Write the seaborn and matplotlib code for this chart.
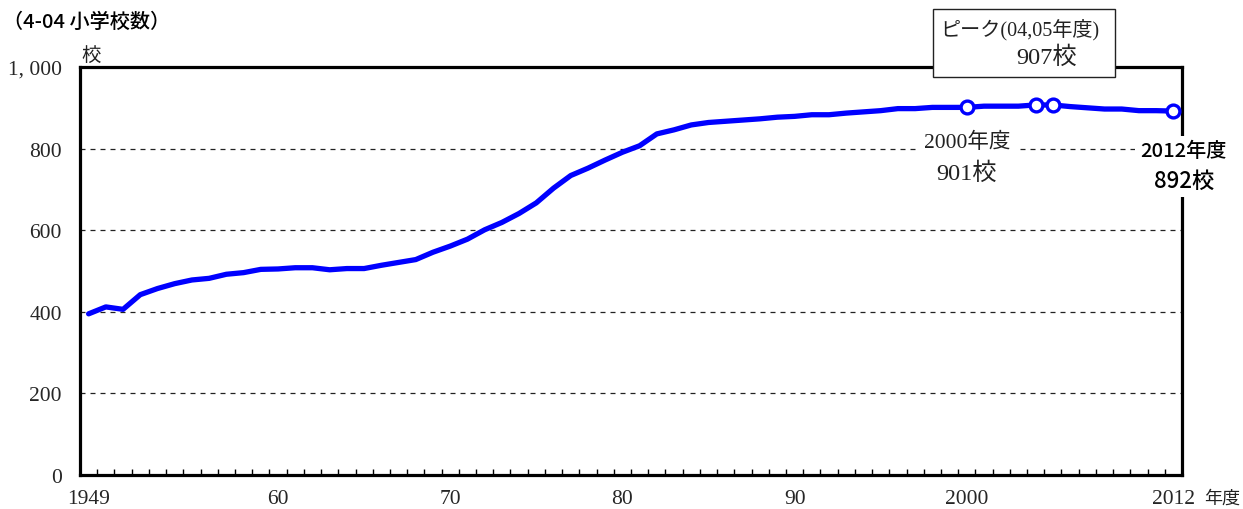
import numpy as np
import matplotlib
matplotlib.use("Agg")
import matplotlib.pyplot as plt
import seaborn as sns
from matplotlib.patches import Rectangle

# ---- data ----
years = list(range(1949, 2013))
schools = [395, 412, 406, 442, 457, 469, 478, 482, 492, 496,
           504, 505, 508, 508, 503, 506, 506, 514, 521, 528,
           546, 561, 578, 601, 619, 641, 667, 703, 734, 752,
           772, 791, 807, 836, 846, 858, 864, 867, 870, 873,
           877, 879, 883, 883, 887, 890, 893, 898, 898, 901,
           901, 901, 904, 904, 904, 907, 907, 903, 900, 897,
           897, 893, 893, 892]
marker_years = [2000, 2004, 2005, 2012]
marker_values = [901, 907, 907, 892]
xtick_years = [1949, 1960, 1970, 1980, 1990, 2000, 2012]
xtick_labels = ["1949", "60", "70", "80", "90", "2000", "2012"]
ytick_values = [0, 200, 400, 600, 800, 1000]
ytick_labels = ["0", "200", "400", "600", "800", "1, 000"]

sns.set_style("white")
SERIF = ["Liberation Serif", "Noto Sans CJK JP"]
SANS = ["Noto Sans CJK JP", "DejaVu Sans"]
plt.rcParams["font.family"] = SERIF

W, H = 1243, 510
fig = plt.figure(figsize=(W / 100, H / 100), dpi=100)
ax = fig.add_axes([80 / W, 34 / H, 1102 / W, 408 / H])

blue = "#0000ff"
sns.lineplot(x=years, y=schools, color=blue, linewidth=3.8, ax=ax, zorder=4)
sns.scatterplot(x=marker_years, y=marker_values, s=85, color="white",
                edgecolor=blue, linewidth=2.4, ax=ax, zorder=5)

ax.set_xlim(1948.5, 2012.5)
ax.set_ylim(0, 1000)
ax.set_xlabel("")
ax.set_ylabel("")

ax.set_xticks(xtick_years)
ax.set_xticklabels(xtick_labels, fontsize=15.5, family=SERIF)
ax.set_xticks(np.arange(years[0] + 0.5, years[-1], 1), minor=True)
ax.tick_params(axis="x", which="major", length=0, pad=10)
ax.tick_params(axis="x", which="minor", direction="in", length=4, width=1,
               color="black", bottom=True)

ax.set_yticks(ytick_values)
ax.set_yticklabels(ytick_labels, fontsize=15.5, family=SERIF)
ax.tick_params(axis="y", length=0, pad=13)

ax.grid(axis="y", linestyle=(0, (4, 4)), linewidth=0.9, color="#222222")
ax.grid(axis="x", visible=False)
ax.set_axisbelow(True)

for sp in ax.spines.values():
    sp.set_visible(True)
    sp.set_color("black")
    sp.set_linewidth(2.3)

# annotations
ax.text(2000, 816, "2000年度", ha="center", va="center", fontsize=15.5,
        family=SERIF, color="#222222", zorder=6,
        bbox=dict(boxstyle="square,pad=0.3", fc="white", ec="none"))
ax.text(2000, 740, "901校", ha="center", va="center", fontsize=17.5,
        family=SERIF, color="#222222", zorder=6)

ax.text(2012.6, 795, "2012年度", ha="center", va="center", fontsize=14.5,
        family=SANS, weight="medium", color="black", zorder=6, clip_on=False,
        bbox=dict(boxstyle="square,pad=0.25", fc="white", ec="none"))
ax.text(2012.6, 722, "892校", ha="center", va="center", fontsize=16,
        family=SANS, weight="medium", color="black", zorder=6, clip_on=False,
        bbox=dict(boxstyle="square,pad=0.25", fc="white", ec="none"))

# peak box
fig.patches.append(Rectangle((933 / W, 1 - 78 / H), 182 / W, 68 / H,
                             transform=fig.transFigure, facecolor="white",
                             edgecolor="#222222", linewidth=1.0, zorder=10))
fig.text(940 / W, 1 - 30 / H, "ピーク(04,05年度)", ha="left", va="center",
         fontsize=14.5, family=SERIF, color="#222222", zorder=11)
fig.text(1047 / W, 1 - 58 / H, "907校", ha="center", va="center",
         fontsize=17.5, family=SERIF, color="#222222", zorder=11)

# title and units
fig.text(3 / W, 1 - 22 / H, "（4-04 小学校数）", ha="left", va="center",
         fontsize=14.5, family=SANS, weight="medium", color="black")
fig.text(91 / W, 1 - 55 / H, "校", ha="center", va="center",
         fontsize=14, family=SANS, color="#222222")
fig.text(1204 / W, 1 - 499 / H, "年度", ha="left", va="center",
         fontsize=13, family=SANS, color="#222222")

fig.savefig("out.png", dpi=100, facecolor="white")
